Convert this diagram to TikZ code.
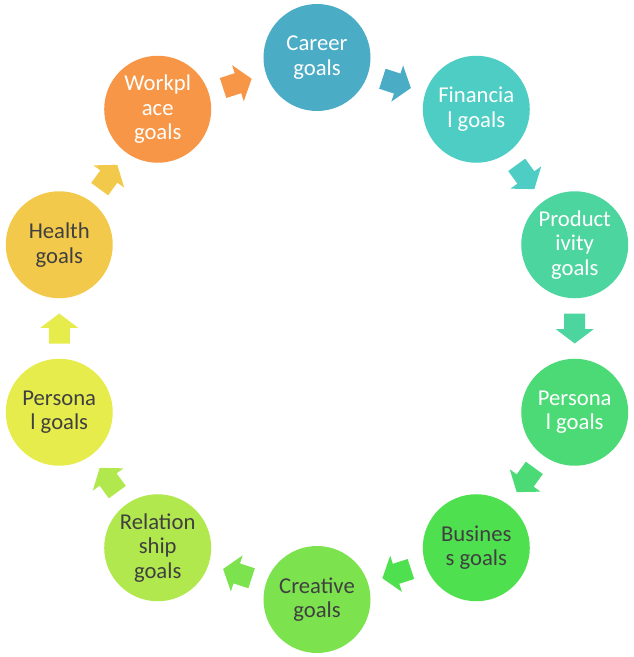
\documentclass[tikz,border=0pt]{standalone}
\usepackage{fontspec}
\setmainfont{Carlito}
\usetikzlibrary{calc}
\definecolor{c0}{HTML}{4BACC6}
\definecolor{c1}{HTML}{4ECDC4}
\definecolor{c2}{HTML}{4DD59F}
\definecolor{c3}{HTML}{4CDA77}
\definecolor{c4}{HTML}{4FE04F}
\definecolor{c5}{HTML}{7CE34F}
\definecolor{c6}{HTML}{B1E84D}
\definecolor{c7}{HTML}{E5EC4B}
\definecolor{c8}{HTML}{F2C94A}
\definecolor{c9}{HTML}{F79646}
\definecolor{darktext}{HTML}{404040}
\begin{document}
\begin{tikzpicture}[x=0.75pt,y=0.75pt,
  goal/.style={circle,minimum size=80.25pt,inner sep=0pt,align=center,
    font=\fontsize{17}{18.5}\selectfont},
  light/.style={text=white},
  dark/.style={text=darktext}]
\useasboundingbox (-317,-328.5) rectangle (317,328.5);
\node[goal,fill=c0,light] (n0) at (90:271)  {Career\\goals};
\node[goal,fill=c1,light] (n1) at (54:271)  {Financia\\l goals};
\node[goal,fill=c2,light] (n2) at (18:271)  {Product\\ivity\\goals};
\node[goal,fill=c3,light] (n3) at (-18:271) {Persona\\l goals};
\node[goal,fill=c4,dark]  (n4) at (-54:271) {Busines\\s goals};
\node[goal,fill=c5,dark]  (n5) at (-90:271) {Creative\\goals};
\node[goal,fill=c6,dark]  (n6) at (-126:271) {Relation\\ship\\goals};
\node[goal,fill=c7,dark]  (n7) at (-162:271) {Persona\\l goals};
\node[goal,fill=c8,dark]  (n8) at (162:271) {Health\\goals};
\node[goal,fill=c9,light] (n9) at (126:271) {Workpl\\ace\\goals};
\foreach \i/\j in {0/1,1/2,2/3,3/4,4/5,5/6,6/7,7/8,8/9,9/0} {
  \coordinate (m\i) at ($(n\i)!0.5!(n\j)$);
  \fill[c\i,shift={(m\i)},rotate={-18-36*\i}]
    (-15,-10.5) -- (0.6,-10.5) -- (0.6,-19) -- (15,0) -- (0.6,19) -- (0.6,10.5) -- (-15,10.5) -- cycle;
}
\end{tikzpicture}
\end{document}
